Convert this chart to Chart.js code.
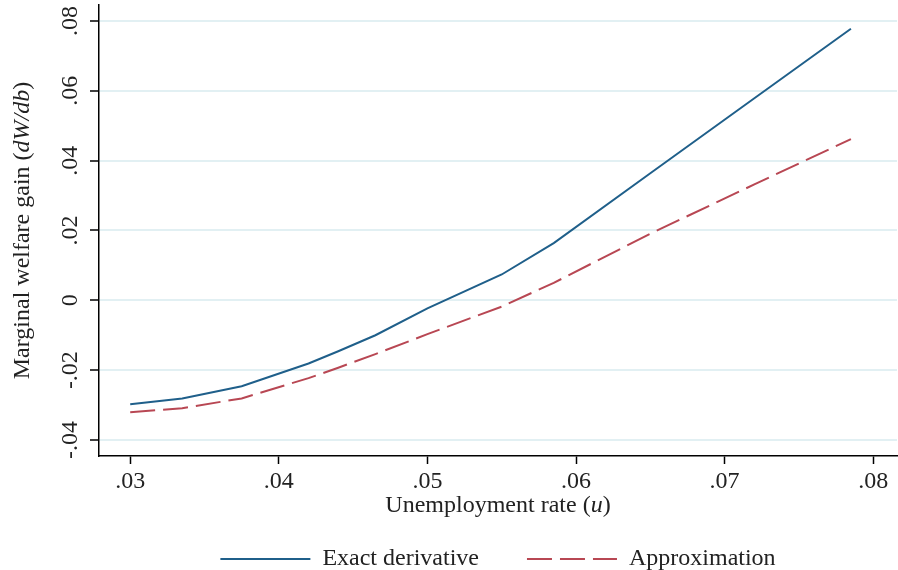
<!DOCTYPE html>
<html>
<head>
<meta charset="utf-8">
<script src="https://cdn.jsdelivr.net/npm/chart.js@4"></script>
<style>
  html, body { margin: 0; padding: 0; background: #fff; }
  #wrap { width: 898px; height: 570px; }
</style>
</head>
<body>
<div id="wrap"><canvas id="chart" width="898" height="570"></canvas></div>
<script>
// Unemployment rate grid and the two welfare-gain curves
const unemploymentRate = [0.0300, 0.0335, 0.0375, 0.0420, 0.0440, 0.0465, 0.0500, 0.0550, 0.0585, 0.0650, 0.0720, 0.0785];
const exactDerivative  = [-0.0298, -0.0281, -0.0246, -0.0181, -0.0146, -0.0100, -0.0023, 0.0074, 0.0164, 0.0364, 0.0579, 0.0778];
const approximation    = [-0.0321, -0.0309, -0.0281, -0.0223, -0.0193, -0.0154, -0.0097, -0.0018, 0.0050, 0.0191, 0.0332, 0.0462];

const seriesNames = ['Exact derivative', 'Approximation'];
const xTickValues = [0.03, 0.04, 0.05, 0.06, 0.07, 0.08];
const yTickValues = [-0.04, -0.02, 0, 0.02, 0.04, 0.06, 0.08];

// Axis titles, split into [text, italic] runs
const xTitleParts = [['Unemployment rate (', false], ['u', true], [')', false]];
const yTitleParts = [['Marginal welfare gain (', false], ['dW/db', true], [')', false]];

const SERIF = '"Liberation Serif", "Times New Roman", serif';
const FONT_SIZE = 24;
const TEXT_COLOR = '#222';

// Stata-style labels: ".04", "-.02", "0"
function fmt(v) {
  if (Math.abs(v) < 1e-9) return '0';
  const s = Math.abs(v).toFixed(2).replace(/^0/, '');
  return (v < 0 ? '-' : '') + s;
}

function drawRuns(ctx, parts, cx, cy, angle) {
  ctx.save();
  ctx.translate(cx, cy);
  ctx.rotate(angle);
  ctx.textBaseline = 'middle';
  ctx.textAlign = 'left';
  const fontFor = it => (it ? 'italic ' : '') + FONT_SIZE + 'px ' + SERIF;
  let total = 0;
  parts.forEach(([t, it]) => { ctx.font = fontFor(it); total += ctx.measureText(t).width; });
  let x = -total / 2;
  parts.forEach(([t, it]) => {
    ctx.font = fontFor(it);
    ctx.fillText(t, x, 0);
    x += ctx.measureText(t).width;
  });
  ctx.restore();
}

// Rotated y tick labels and the two axis titles
const axisText = {
  id: 'axisText',
  afterDraw(chart) {
    const { ctx, chartArea } = chart;
    const y = chart.scales.y;
    ctx.save();
    ctx.fillStyle = TEXT_COLOR;
    ctx.font = FONT_SIZE + 'px ' + SERIF;
    y.ticks.forEach(t => {
      const py = y.getPixelForValue(t.value);
      ctx.save();
      ctx.translate(y.right - 28, py);
      ctx.rotate(-Math.PI / 2);
      ctx.textAlign = 'center';
      ctx.textBaseline = 'middle';
      ctx.fillText(fmt(t.value), 0, 0);
      ctx.restore();
    });
    drawRuns(ctx, xTitleParts, (chartArea.left + chartArea.right) / 2, chartArea.bottom + 50, 0);
    drawRuns(ctx, yTitleParts, 23, (chartArea.top + chartArea.bottom) / 2, -Math.PI / 2);
    ctx.restore();
  }
};

const toPoints = vals => unemploymentRate.map((u, i) => ({ x: u, y: vals[i] }));

// Legend entries take line colour, width and dash from each dataset
function legendLabels(chart) {
  const items = Chart.defaults.plugins.legend.labels.generateLabels(chart);
  items.forEach(it => {
    const ds = chart.data.datasets[it.datasetIndex];
    it.lineDash = ds.borderDash || [];
    it.lineWidth = ds.borderWidth;
    it.strokeStyle = ds.borderColor;
    it.fillStyle = ds.borderColor;
  });
  return items;
}

new Chart(document.getElementById('chart').getContext('2d'), {
  type: 'line',
  data: {
    datasets: [
      {
        label: seriesNames[0],
        data: toPoints(exactDerivative),
        borderColor: '#1f5f8a',
        backgroundColor: '#1f5f8a',
        borderWidth: 2,
        pointRadius: 0,
        pointStyle: 'line',
        tension: 0,
        fill: false
      },
      {
        label: seriesNames[1],
        data: toPoints(approximation),
        borderColor: '#b84753',
        backgroundColor: '#b84753',
        borderWidth: 2,
        borderDash: [25, 8],
        pointRadius: 0,
        pointStyle: 'line',
        tension: 0,
        fill: false
      }
    ]
  },
  options: {
    responsive: false,
    animation: false,
    layout: { padding: { top: 5, right: 1, left: 0, bottom: 0 } },
    plugins: {
      tooltip: { enabled: false },
      legend: {
        position: 'bottom',
        fullSize: false,
        maxHeight: 71,
        labels: {
          usePointStyle: true,
          pointStyle: 'line',
          pointStyleWidth: 90,
          padding: 48,
          color: TEXT_COLOR,
          font: { family: SERIF, size: FONT_SIZE },
          generateLabels: legendLabels
        }
      }
    },
    scales: {
      x: {
        type: 'linear',
        min: 0.0279,
        max: 0.0816,
        afterBuildTicks: s => { s.ticks = xTickValues.map(v => ({ value: v })); },
        afterFit: s => { s.height = 43; },
        ticks: {
          callback: v => fmt(v),
          color: TEXT_COLOR,
          font: { family: SERIF, size: FONT_SIZE },
          padding: 3,
          maxRotation: 0,
          autoSkip: false
        },
        grid: { drawOnChartArea: false, drawTicks: true, tickLength: 8, tickColor: '#000', tickWidth: 1.5 },
        border: { display: true, color: '#000', width: 1.5 }
      },
      y: {
        type: 'linear',
        min: -0.0446,
        max: 0.0846,
        afterBuildTicks: s => { s.ticks = yTickValues.map(v => ({ value: v })); },
        afterFit: s => { s.width = 99; },
        ticks: { display: false },
        grid: { color: '#e2f0f3', lineWidth: 2, drawTicks: true, tickLength: 9, tickColor: '#000', tickWidth: 1.5 },
        border: { display: true, color: '#000', width: 1.5 }
      }
    }
  },
  plugins: [axisText]
});
</script>
</body>
</html>
